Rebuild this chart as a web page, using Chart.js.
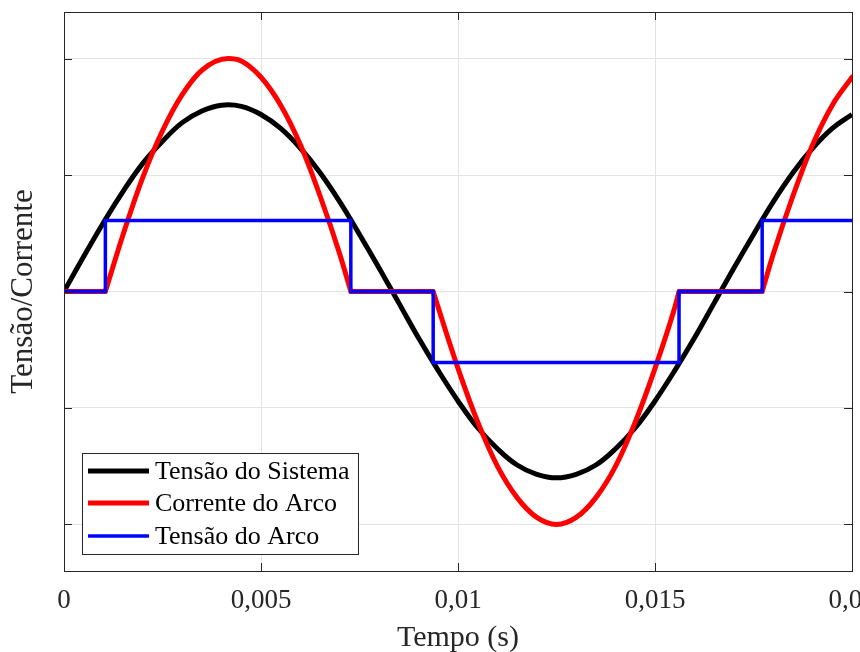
<!DOCTYPE html>
<html>
<head>
<meta charset="utf-8">
<script src="https://cdn.jsdelivr.net/npm/chart.js@4"></script>
<style>
  html, body { margin: 0; padding: 0; background: #fff; overflow: hidden; }
  #wrap { width: 900px; height: 656px; }
</style>
</head>
<body>
<div id="wrap"><canvas id="arcChart" width="900" height="656"></canvas></div>
<script>
// Tensão do Sistema
var sysT = [0, 0.0005, 0.001, 0.0015, 0.002, 0.0025, 0.003, 0.0035, 0.004, 0.0045,
            0.005, 0.0055, 0.006, 0.0065, 0.007, 0.0075, 0.008, 0.0085, 0.009, 0.0095,
            0.01, 0.0105, 0.011, 0.0115, 0.012, 0.0125, 0.013, 0.0135, 0.014, 0.0145,
            0.015, 0.0155, 0.016, 0.0165, 0.017, 0.0175, 0.018, 0.0185, 0.019, 0.0195, 0.02];
var sysV = [0, 0.30, 0.59, 0.86, 1.10, 1.29, 1.45, 1.55, 1.60, 1.59,
            1.52, 1.40, 1.23, 1.02, 0.77, 0.49, 0.20, -0.10, -0.40, -0.68,
            -0.94, -1.17, -1.35, -1.49, -1.57, -1.60, -1.57, -1.49, -1.35, -1.17,
            -0.94, -0.68, -0.40, -0.10, 0.20, 0.49, 0.77, 1.02, 1.23, 1.40, 1.52];

// Corrente do Arco (null = quebra da curva nos pontos de ignição/extinção)
var curT = [0, 0.0005, 0.001, 0.00105, null, 0.00105, 0.0015, 0.002, 0.0025, 0.003,
            0.0035, 0.00417, 0.0045, 0.005, 0.0055, 0.006, 0.0065, 0.007, 0.00728, null,
            0.00728, 0.008, 0.009, 0.00937, null, 0.00937, 0.0095, 0.01, 0.0105, 0.011,
            0.0115, 0.012, 0.0125, 0.013, 0.0135, 0.014, 0.0145, 0.015, 0.0155, 0.01561,
            null, 0.01561, 0.016, 0.017, 0.01772, null, 0.01772, 0.018, 0.0185, 0.019,
            0.0195, 0.02];
var curV = [0, 0, 0, 0, null, 0, 0.49, 0.98, 1.38, 1.69,
            1.90, 2.00, 1.98, 1.84, 1.60, 1.26, 0.82, 0.32, 0, null,
            0, 0, 0, 0, null, 0, -0.14, -0.66, -1.12, -1.50,
            -1.77, -1.94, -2.00, -1.94, -1.77, -1.50, -1.12, -0.66, -0.14, 0,
            null, 0, 0, 0, 0, null, 0, 0.32, 0.82, 1.26,
            1.60, 1.84];

// Tensão do Arco (degraus)
var arcT = [0, 0.00105, 0.00105, 0.00728, 0.00728, 0.00937, 0.00937, 0.01561, 0.01561, 0.01772, 0.01772, 0.02];
var arcV = [0, 0, 0.61, 0.61, 0, 0, -0.61, -0.61, 0, 0, 0.61, 0.61];

var xTicks = [0, 0.005, 0.01, 0.015, 0.02];
var xTickLabels = ['0', '0,005', '0,01', '0,015', '0,02'];
var yTicks = [-2, -1, 0, 1, 2];
var seriesNames = ['Tensão do Sistema', 'Corrente do Arco', 'Tensão do Arco'];

function toPoints(xs, ys) {
    return xs.map(function (x, i) {
        return x === null ? { x: xs[i - 1], y: null } : { x: x, y: ys[i] };
    });
}

var serif = '"Liberation Serif", "Times New Roman", serif';
var frameColor = '#262626';

// caixa, ticks para dentro e legenda no estilo MATLAB
var framePlugin = {
    id: 'frame',
    afterDatasetsDraw: function (chart) {
        var c = chart.ctx, a = chart.chartArea;
        var xs = chart.scales.x, ys = chart.scales.y;
        c.save();
        c.strokeStyle = frameColor;
        c.lineWidth = 1;
        c.beginPath();
        xTicks.forEach(function (v) {
            var px = Math.round(xs.getPixelForValue(v)) + 0.5;
            c.moveTo(px, a.bottom); c.lineTo(px, a.bottom - 8);
            c.moveTo(px, a.top); c.lineTo(px, a.top + 8);
        });
        yTicks.forEach(function (v) {
            var py = Math.round(ys.getPixelForValue(v)) + 0.5;
            c.moveTo(a.left, py); c.lineTo(a.left + 8, py);
            c.moveTo(a.right, py); c.lineTo(a.right - 8, py);
        });
        c.stroke();
        c.strokeRect(Math.round(a.left) + 0.5, Math.round(a.top) + 0.5,
                     Math.round(a.right - a.left), Math.round(a.bottom - a.top));

        // legenda
        var bx = 82, by = 453, bw = 276, bh = 101;
        c.fillStyle = '#fff';
        c.fillRect(bx, by, bw, bh);
        c.strokeRect(bx + 0.5, by + 0.5, bw, bh);
        c.font = '26px ' + serif;
        c.textBaseline = 'middle';
        var rows = [471, 503, 536];
        chart.data.datasets.forEach(function (ds, i) {
            c.strokeStyle = ds.borderColor;
            c.lineWidth = ds.borderWidth;
            c.lineCap = 'butt';
            c.beginPath();
            c.moveTo(88, rows[i]); c.lineTo(149, rows[i]);
            c.stroke();
            c.fillStyle = '#000';
            c.fillText(seriesNames[i], 155, rows[i] + 1);
        });
        c.restore();
    }
};

var ctx = document.getElementById('arcChart').getContext('2d');
var myChart = new Chart(ctx, {
    type: 'line',
    data: {
        datasets: [
            {
                label: seriesNames[0],
                data: toPoints(sysT, sysV),
                borderColor: '#000000',
                borderWidth: 5,
                tension: 0.4,
                order: 3
            },
            {
                label: seriesNames[1],
                data: toPoints(curT, curV),
                borderColor: '#ff0000',
                borderWidth: 5,
                cubicInterpolationMode: 'monotone',
                borderCapStyle: 'round',
                spanGaps: false,
                order: 2
            },
            {
                label: seriesNames[2],
                data: toPoints(arcT, arcV),
                borderColor: '#0000ff',
                borderWidth: 3.5,
                tension: 0,
                order: 1
            }
        ]
    },
    options: {
        responsive: false,
        animation: false,
        layout: { padding: { top: 12, right: 48, left: 0, bottom: 0 } },
        elements: { point: { radius: 0 }, line: { borderCapStyle: 'butt', borderJoinStyle: 'miter' } },
        plugins: {
            legend: { display: false },
            tooltip: { enabled: false }
        },
        scales: {
            x: {
                type: 'linear',
                min: 0,
                max: 0.02,
                afterBuildTicks: function (s) { s.ticks = xTicks.map(function (v) { return { value: v }; }); },
                afterFit: function (s) { s.height = 85; },
                ticks: {
                    color: '#262626',
                    font: { family: serif, size: 27 },
                    padding: 14,
                    maxRotation: 0,
                    callback: function (v, i) { return xTickLabels[i]; }
                },
                grid: { color: '#e3e3e3', drawTicks: false },
                border: { display: false },
                title: {
                    display: true,
                    text: 'Tempo (s)',
                    color: '#262626',
                    font: { family: serif, size: 30 },
                    padding: { top: 0, bottom: 0 }
                }
            },
            y: {
                type: 'linear',
                min: -2.4,
                max: 2.4,
                afterBuildTicks: function (s) { s.ticks = yTicks.map(function (v) { return { value: v }; }); },
                afterFit: function (s) { s.width = 64; },
                ticks: { display: false },
                grid: { color: '#e3e3e3', drawTicks: false },
                border: { display: false },
                title: {
                    display: true,
                    text: 'Tensão/Corrente',
                    color: '#262626',
                    font: { family: serif, size: 31 },
                    padding: { top: 5, bottom: 20 }
                }
            }
        }
    },
    plugins: [framePlugin]
});
</script>
</body>
</html>
